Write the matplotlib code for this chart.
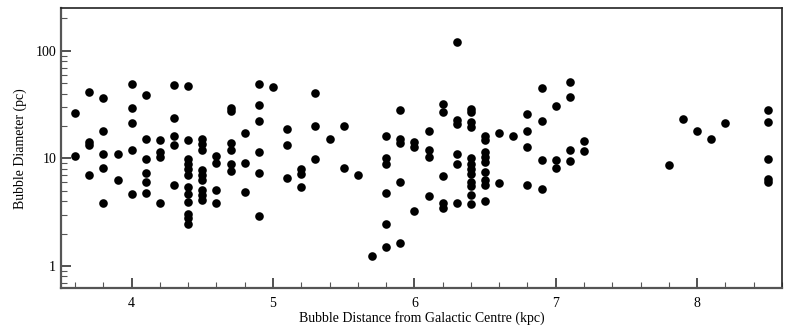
import matplotlib
matplotlib.use("Agg")
import matplotlib.pyplot as plt
from matplotlib.ticker import LogLocator, FixedLocator, MultipleLocator, NullFormatter

# Bubble distance from galactic centre (kpc) and bubble diameter (pc)
distance_kpc = (
    [3.6] * 2 + [3.7] * 4 + [3.8] * 5 + [3.9] * 2 + [4.0] * 5 + [4.1] * 6
    + [4.2] * 4 + [4.3] * 5 + [4.4] * 12 + [4.5] * 9 + [4.6] * 4 + [4.7] * 6
    + [4.8] * 3 + [4.9] * 6 + [5.0] + [5.1] * 3 + [5.2] * 3 + [5.3] * 3
    + [5.4] + [5.5] * 2 + [5.6] + [5.7] + [5.8] * 6 + [5.9] * 5 + [6.0] * 3
    + [6.1] * 4 + [6.2] * 5 + [6.3] * 6 + [6.4] * 12 + [6.5] * 9 + [6.6] * 2
    + [6.7] + [6.8] * 4 + [6.9] * 4 + [7.0] * 3 + [7.1] * 4 + [7.2] * 2
    + [7.8] + [7.9] + [8.0] + [8.1] + [8.2] + [8.5] * 5
)
diameter_pc = [
    26.3, 10.5,
    41.7, 14.2, 13.2, 7.07,
    36.2, 18.0, 11.0, 8.08, 3.89,
    11.0, 6.3,
    49.5, 29.6, 21.5, 11.9, 4.64,
    38.6, 15.2, 9.94, 7.26, 6.0, 4.77,
    14.9, 11.4, 10.4, 3.86,
    47.7, 24.0, 16.1, 13.2, 5.66,
    47.1, 14.9, 9.94, 8.9, 8.0, 7.07, 5.42, 4.7, 3.94, 3.03, 2.77, 2.48,
    15.2, 13.7, 12.0, 7.74, 6.97, 6.25, 5.05, 4.54, 4.08,
    10.6, 9.06, 5.13, 3.86,
    29.5, 27.8, 14.0, 12.0, 8.9, 7.6,
    17.4, 9.12, 4.87,
    49.5, 31.6, 22.2, 11.5, 7.31, 2.9,
    46.4,
    18.6, 13.2, 6.53,
    7.96, 7.2, 5.42,
    40.3, 20.2, 9.85,
    15.1,
    20.1, 8.13,
    7.02,
    1.24,
    16.3, 10.1, 8.9, 4.77, 2.45, 1.49,
    28.4, 15.2, 13.9, 6.08, 1.62,
    14.2, 12.7, 3.23,
    17.9, 12.0, 10.3, 4.48,
    32.1, 26.8, 6.92, 3.86, 3.46,
    122, 22.8, 21.0, 11.0, 8.9, 3.86,
    28.9, 26.8, 21.7, 19.4, 10.1, 8.9, 8.0, 7.2, 6.04, 5.5, 4.54, 3.8,
    16.0, 14.9, 11.4, 10.3, 9.27, 7.45, 6.25, 5.6, 4.0,
    17.3, 5.91,
    16.0,
    25.8, 18.1, 12.9, 5.6,
    45.4, 22.5, 9.73, 5.2,
    31.0, 9.6, 8.13,
    51.6, 37.5, 11.9, 9.38,
    14.5, 11.6,
    8.68,
    23.1,
    17.8,
    15.3,
    21.2,
    28.3, 21.7, 9.8, 6.49, 6.04,
]

x_ticks = [4, 5, 6, 7, 8]
y_ticks = [1, 10, 100]
y_tick_labels = ["1", "10", "100"]

plt.rcParams["font.family"] = ["Liberation Serif", "DejaVu Serif"]

fig = plt.figure(figsize=(7.89, 3.28), dpi=100)
ax = fig.add_axes([0.0773, 0.121, 0.9137, 0.8545])

ax.plot(distance_kpc, diameter_pc, "o", color="black", markersize=6.2,
        markeredgewidth=0, linestyle="none")

ax.set_yscale("log")
ax.set_xlim(3.5, 8.6)
ax.set_ylim(0.62, 250)

ax.xaxis.set_major_locator(FixedLocator(x_ticks))
ax.xaxis.set_minor_locator(MultipleLocator(0.2))
ax.yaxis.set_major_locator(FixedLocator(y_ticks))
ax.set_yticklabels(y_tick_labels)
ax.yaxis.set_minor_locator(LogLocator(base=10, subs=range(2, 10)))
ax.yaxis.set_minor_formatter(NullFormatter())

ax.tick_params(which="major", direction="in", length=7, width=1.2,
               labelsize=10, color="#333333", top=False, right=False)
ax.tick_params(which="minor", direction="in", length=4, width=0.8,
               color="#555555", top=False, right=False)
ax.tick_params(axis="x", pad=6)

for side in ["left", "bottom"]:
    ax.spines[side].set_linewidth(1.6)
    ax.spines[side].set_color("#555555")
for side in ["top", "right"]:
    ax.spines[side].set_linewidth(1.2)
    ax.spines[side].set_color("#222222")

ax.set_xlabel("Bubble Distance from Galactic Centre (kpc)", fontsize=10, labelpad=1)
ax.set_ylabel("Bubble Diameter (pc)", fontsize=10, labelpad=6)

fig.savefig("out.png", dpi=100)
